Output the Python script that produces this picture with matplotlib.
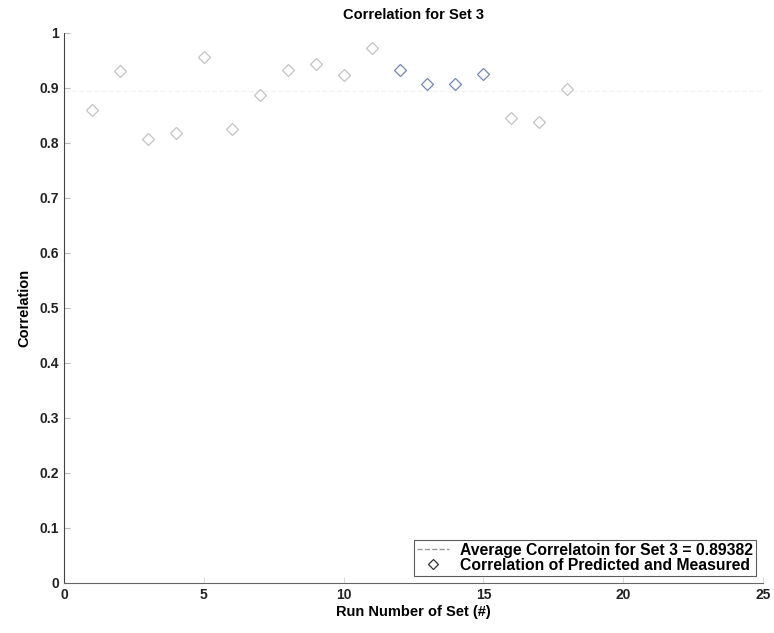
import matplotlib.pyplot as plt

runs = list(range(1, 19))
corr = [0.860, 0.931, 0.807, 0.819, 0.956, 0.825, 0.887, 0.933, 0.944,
        0.924, 0.972, 0.933, 0.907, 0.907, 0.925, 0.845, 0.838, 0.899]
avg_corr = 0.89382
x_ticks = [0, 5, 10, 15, 20, 25]
y_ticks = [0, 0.1, 0.2, 0.3, 0.4, 0.5, 0.6, 0.7, 0.8, 0.9, 1]
y_labels = ['0', '0.1', '0.2', '0.3', '0.4', '0.5', '0.6', '0.7', '0.8', '0.9', '1']

plt.rcParams['font.family'] = ['Liberation Sans', 'DejaVu Sans']
plt.rcParams['font.weight'] = 'bold'

fig = plt.figure(figsize=(7.74, 6.33), dpi=100)
ax = fig.add_axes([0.0827, 0.079, 0.9031, 0.8689])

# scanned picture: most markers faded to grey, a few kept their blue
marker_cols = ['#c4c4c4'] * len(runs)
for i in range(11, 15):
    marker_cols[i] = '#7585b5'

ax.plot([0, 25], [avg_corr, avg_corr], '--', color='#f2f2f2', lw=1,
        label='Average Correlatoin for Set 3 = %.5f' % avg_corr)
for i in range(len(runs)):
    ax.plot(runs[i], corr[i], 'D', ms=6, mfc='none', mec=marker_cols[i],
            mew=0.9, label='_nolegend_')
ax.plot([], [], 'D', ms=5.5, mfc='none', mec='#333333', mew=0.9,
        label='Correlation of Predicted and Measured')

ax.set_xlim(0, 25)
ax.set_ylim(0, 1)
ax.set_xticks(x_ticks)
ax.set_yticks(y_ticks)
ax.set_yticklabels(y_labels)
ax.tick_params(direction='in', length=4, labelsize=10, colors='#222222')
ax.tick_params(axis='x', colors='#dddddd', labelcolor='#222222')
ax.tick_params(axis='y', colors='#bbbbbb', labelcolor='#222222')
ax.spines['top'].set_visible(False)
ax.spines['right'].set_visible(False)
ax.spines['left'].set_color('#444444')
ax.spines['bottom'].set_color('#666666')

ax.set_title('Correlation for Set 3', fontsize=10.5, fontweight='bold', pad=10)
ax.set_xlabel('Run Number of Set (#)', fontsize=10.5, fontweight='bold', labelpad=2)
ax.set_ylabel('Correlation', fontsize=10.5, fontweight='bold', labelpad=6)

leg = ax.legend(loc='lower right', fontsize=11.3, frameon=True, fancybox=False,
                borderaxespad=0.45, handlelength=2.0, borderpad=0.2,
                labelspacing=0.0, handletextpad=0.7)
leg.get_frame().set_edgecolor('#333333')
leg.get_frame().set_linewidth(0.8)
leg.get_lines()[0].set_color('#999999')

fig.savefig('out.png', dpi=100)
